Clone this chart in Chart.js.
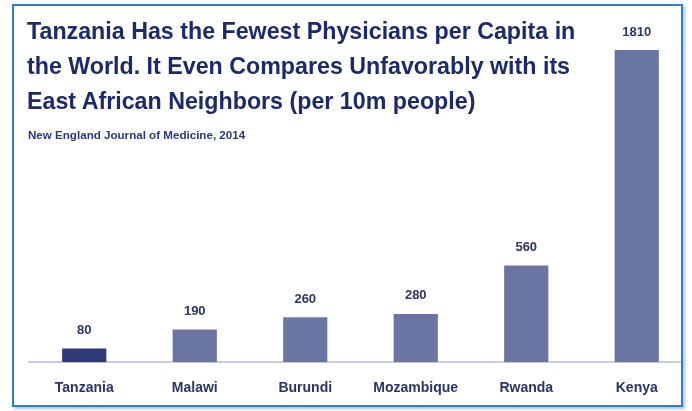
<!DOCTYPE html>
<html>
<head>
<meta charset="utf-8">
<script src="https://cdn.jsdelivr.net/npm/chart.js@4"></script>
<style>
  body { margin: 0; background: #fff; font-family: "Liberation Sans", Arial, sans-serif; }
  #page { position: relative; width: 692px; height: 411px; overflow: hidden; }
  #box {
    position: absolute; left: 12px; top: 4px; width: 667px; height: 399px;
    border: 2px solid #2a7fd0; overflow: hidden;
    box-shadow: 2px 2px 3px rgba(0,0,0,0.25);
  }
  #box canvas { position: absolute; left: -14px; top: -6px; }
  #title {
    position: absolute; left: 27px; top: 13px; margin: 0;
    font-size: 24px; line-height: 35px; font-weight: bold; color: #1c2a6b;
    transform: scaleX(0.968); transform-origin: 0 0; white-space: nowrap;
  }
  #source {
    position: absolute; left: 28px; top: 128px;
    font-size: 11.6px; line-height: 13px; font-weight: bold; color: #2a3a80;
  }
</style>
</head>
<body>
<div id="page">
  <div id="box"><canvas id="chart" width="692" height="415"></canvas></div>
  <div id="title">Tanzania Has the Fewest Physicians per Capita in<br>the World. It Even Compares Unfavorably with its<br>East African Neighbors (per 10m people)</div>
  <div id="source">New England Journal of Medicine, 2014</div>
</div>
<script>
const countries = ['Tanzania', 'Malawi', 'Burundi', 'Mozambique', 'Rwanda', 'Kenya'];
const physicians = [80, 190, 260, 280, 560, 1810];
const barColors = ['#2e3a78', '#6a75a3', '#6a75a3', '#6a75a3', '#6a75a3', '#6a75a3'];

const valueLabels = {
    id: 'valueLabels',
    afterDatasetsDraw(chart) {
        const ctx = chart.ctx;
        ctx.save();
        ctx.font = 'bold 13px "Liberation Sans", Arial, sans-serif';
        ctx.fillStyle = '#2d3566';
        ctx.textAlign = 'center';
        ctx.textBaseline = 'middle';
        chart.getDatasetMeta(0).data.forEach((bar, i) => {
            ctx.fillText(physicians[i], bar.x, bar.y - 18);
        });
        ctx.restore();
    }
};

new Chart(document.getElementById('chart'), {
    type: 'bar',
    data: {
        labels: countries,
        datasets: [{
            data: physicians,
            backgroundColor: barColors,
            categoryPercentage: 1,
            barPercentage: 0.4
        }]
    },
    options: {
        responsive: false,
        animation: false,
        layout: { padding: { left: 29, right: 0, top: 50, bottom: 0 } },
        plugins: { legend: { display: false }, tooltip: { enabled: false } },
        scales: {
            x: {
                grid: { display: false, drawTicks: false },
                border: { color: '#c8cce0', width: 2 },
                ticks: {
                    padding: 18,
                    color: '#2a3566',
                    font: { family: '"Liberation Sans", Arial, sans-serif', size: 14, weight: 'bold' }
                }
            },
            y: { display: false, min: 0, max: 1810 }
        }
    },
    plugins: [valueLabels]
});
</script>
</body>
</html>
